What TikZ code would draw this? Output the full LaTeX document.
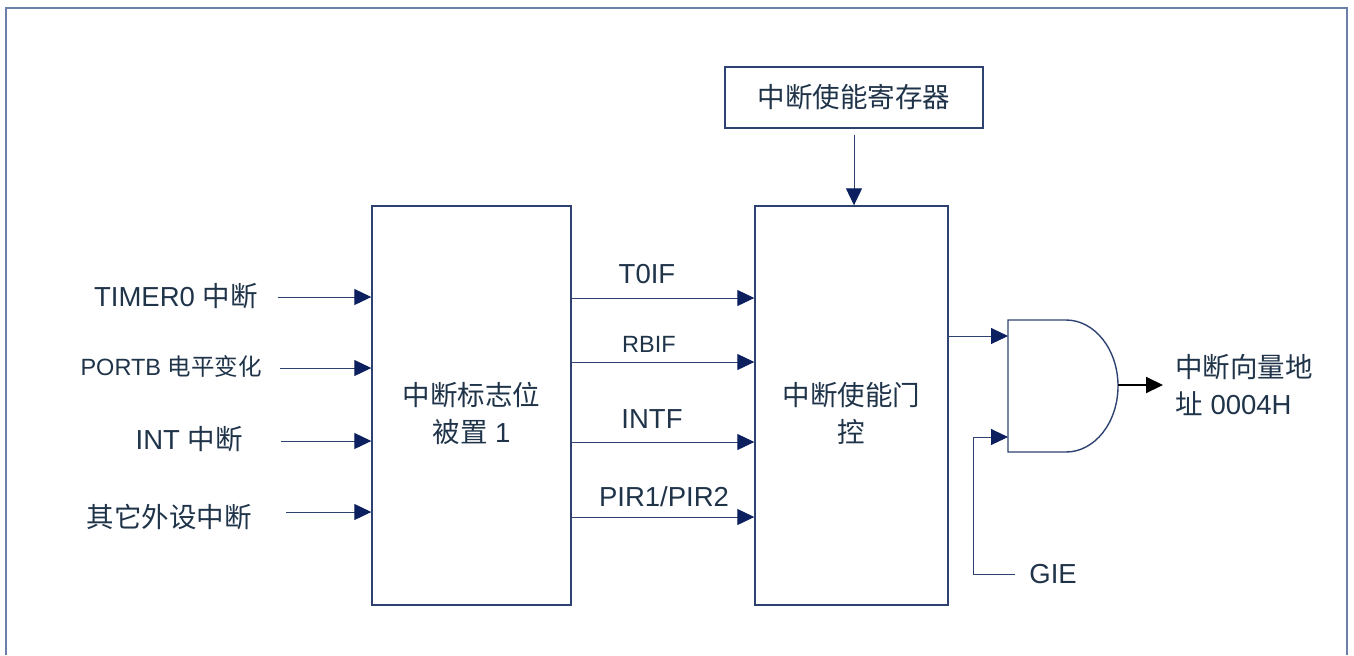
\documentclass[tikz,border=0pt]{standalone}
\usepackage{fontspec}
\setmainfont{Liberation Sans}
\newfontfamily\cjk{Noto Sans CJK SC}
\usetikzlibrary{arrows.meta}
\definecolor{ink}{HTML}{1F3349}
\definecolor{wire}{HTML}{2E4272}
\definecolor{tip}{HTML}{0C2060}
\definecolor{rim}{HTML}{6B7FA8}
\begin{document}
\begin{tikzpicture}[x=0.5pt,y=-0.5pt,%
        every node/.style={font=\fontsize{13.75}{18.5}\selectfont,text=ink,inner
          sep=1pt}, blk/.style={draw=wire,line width=0.7pt,align=center},%
        sig/.style={draw=wire,line width=0.5pt,-{Triangle[length=8.5pt,width=8pt,color=tip]}},%
        small/.style={font=\fontsize{11.75}{14}\selectfont}]%
        \useasboundingbox (0,0) rectangle (1354,655);
        \draw[rim,line width=1pt] (6,655) |- (1347,8) -- (1347,655);
        \node[blk,minimum width=129pt,minimum height=30.5pt] (reg) at (854,97.5)
        {\cjk 中断使能寄存器}; \node[blk,minimum width=99.5pt,minimum
        height=199.5pt] (flag) at (471.5,405.5) {}; \node[blk,minimum
        width=96.5pt,minimum height=199.5pt] (gate) at (851.5,405.5) {};
        \node[align=center] (flagt) at ([yshift=-4pt]flag.center) {{\cjk
          中断标志位}\\{\cjk 被置} 1}; \node[align=center] (gatet) at
        ([yshift=-4pt]gate.center) {{\cjk 中断使能门}\\{\cjk 控}};
        \draw[sig] ([yshift=-3pt]reg.south) -- (reg.south |- gate.north);
        \node[anchor=east] (tmr) at (260,296) {TIMER0 {\cjk 中断}};
        \node[anchor=east,small] (ptb) at (264,366) {PORTB {\cjk 电平变化}};
        \node[anchor=east] (int) at (245,439) {INT {\cjk 中断}};
        \node[anchor=east] (oth) at (254,517) {\cjk 其它外设中断};
        \draw[sig] ([shift={(9pt,-0.5pt)}]tmr.east) coordinate (i1) -- (i1 -| flag.west);
        \draw[sig] ([shift={(8pt,-1pt)}]ptb.east) coordinate (i2) -- (i2 -| flag.west);
        \draw[sig] ([shift={(18pt,-1pt)}]int.east) coordinate (i3) -- (i3 -| flag.west);
        \draw[sig] ([shift={(16pt,2.5pt)}]oth.east) coordinate (i4) -- (i4 -| flag.west);
        \coordinate (r1) at (0,298); \coordinate (r2) at (0,362); \coordinate
        (r3) at (0,442); \coordinate (r4) at (0,517);
        \node (t0if) at (647,274) {T0IF}; \node[small] (rbif) at (649,344)
        {RBIF}; \node (intf) at (652,419) {INTF}; \node (pir) at (664,497)
        {PIR1/PIR2};
        \draw[sig] (flag.east |- r1) -- (gate.west |- r1);
        \draw[sig] (flag.east |- r2) -- (gate.west |- r2);
        \draw[sig] (flag.east |- r3) -- (gate.west |- r3);
        \draw[sig] (flag.east |- r4) -- (gate.west |- r4);
        \draw[wire,line width=0.7pt] (1008,320) -- (1066,320) arc[start
        angle=-90,end angle=90,x radius=52,y radius=66] -- (1008,452) -- cycle;
        \coordinate (ain1) at (1008,336); \coordinate (ain2) at (1008,437);
        \coordinate (aout) at (1118,385); \coordinate (vec) at (1163,385);
        \draw[sig] (gate.east |- ain1) -- (ain1);
        \node[anchor=west] (gie) at (1027,574) {GIE};
        \draw[sig] ([xshift=-6pt]gie.west) -| ([xshift=-17.5pt]ain2) -- (ain2);
        \draw[line width=1pt,-{Triangle[length=8.5pt,width=8pt]}] (aout) -- (vec);
        \node[anchor=west,align=left] (vecl) at (1173,385) {{\cjk 中断向量地}\\{\cjk
          址} 0004H};
      \end{tikzpicture}
\end{document}
